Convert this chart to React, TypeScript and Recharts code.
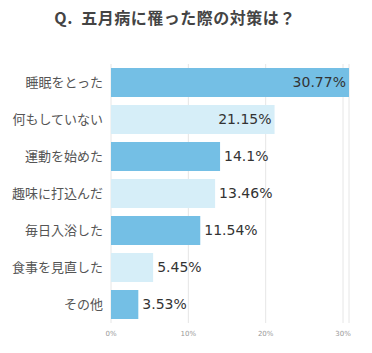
import React from 'react';
import { BarChart, Bar, XAxis, YAxis, CartesianGrid, Cell, LabelList } from 'recharts';

const categories = ['睡眠をとった', '何もしていない', '運動を始めた', '趣味に打込んだ', '毎日入浴した', '食事を見直した', 'その他'];
const values = [30.77, 21.15, 14.1, 13.46, 11.54, 5.45, 3.53];
const xTicks = [0, 10, 20, 30];

const DARK = '#74bfe5';
const LIGHT = '#d6eef8';

const data = categories.map((name, i) => ({ name, value: values[i] }));

const ValueLabel = (props: any) => {
  const { x, y, width, height, value } = props;
  const inside = value >= 20;
  return (
    <text
      x={inside ? x + width - 3 : x + width + 4}
      y={y + height / 2}
      dy="0.35em"
      textAnchor={inside ? 'end' : 'start'}
      fontSize={14}
      fontFamily="DejaVu Sans"
      fill="#333"
    >
      {value}%
    </text>
  );
};

const App: React.FC = () => {
  return (
    <div style={{ position: 'absolute', left: 0, top: 0, width: 372, height: 353, background: '#fff' }}>
      <div
        style={{
          position: 'absolute',
          left: 0,
          top: 6,
          width: 350,
          textAlign: 'center',
          fontFamily: '"Noto Sans CJK JP", "Noto Sans", sans-serif',
          fontWeight: 'bold',
          fontSize: 16,
          letterSpacing: 0.5,
          color: '#444',
          lineHeight: '22px',
        }}
      >
        Q.&nbsp;&nbsp;五月病に罹った際の対策は？
      </div>
      <BarChart
        width={372}
        height={353}
        data={data}
        layout="vertical"
        margin={{ top: 64, right: 23, bottom: 10, left: 0 }}
      >
        <CartesianGrid horizontal={false} stroke="#e6e6e6" />
        <XAxis
          type="number"
          domain={[0, 30.77]}
          ticks={xTicks}
          tickFormatter={(v: number) => `${v}%`}
          axisLine={false}
          tickLine={false}
          height={20}
          tick={{ fontSize: 7, fill: '#999', fontFamily: 'DejaVu Sans' }}
        />
        <YAxis
          type="category"
          dataKey="name"
          width={111}
          axisLine={false}
          tickLine={false}
          tick={{ fontSize: 13, fill: '#555', fontFamily: '"Noto Sans CJK JP"' }}
        />
        <Bar dataKey="value" barSize={29} isAnimationActive={false}>
          {data.map((d, i) => (
            <Cell key={d.name} fill={i % 2 === 0 ? DARK : LIGHT} />
          ))}
          <LabelList dataKey="value" content={<ValueLabel />} />
        </Bar>
      </BarChart>
    </div>
  );
};

export default App;
